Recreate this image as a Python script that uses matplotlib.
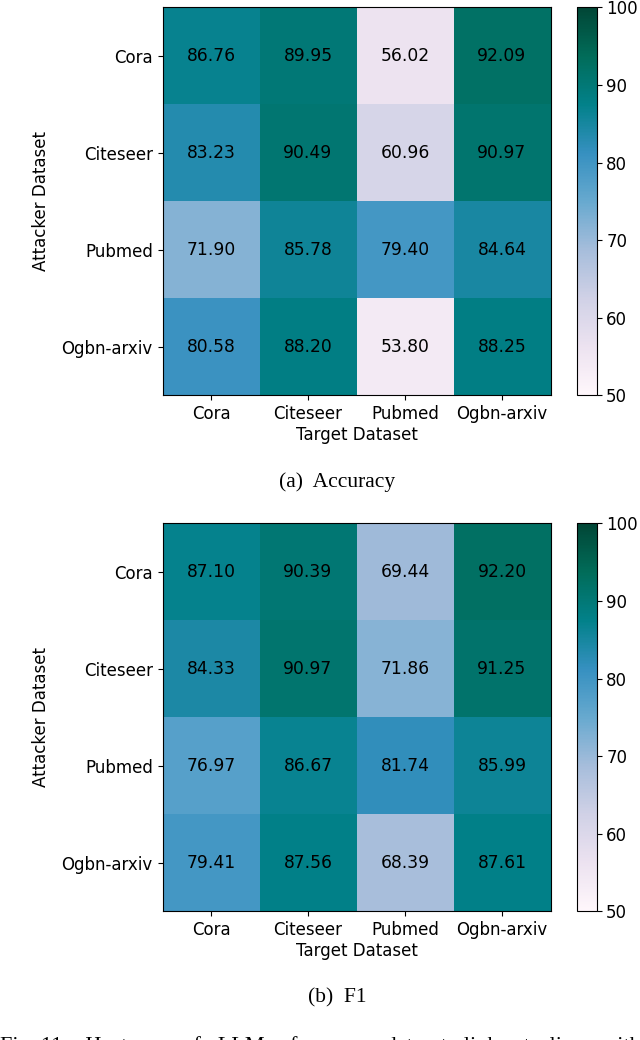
import numpy as np
import matplotlib.pyplot as plt

plt.rcParams["font.family"] = ["DejaVu Sans"]

datasets = ["Cora", "Citeseer", "Pubmed", "Ogbn-arxiv"]

accuracy = [
    [86.76, 89.95, 56.02, 92.09],
    [83.23, 90.49, 60.96, 90.97],
    [71.90, 85.78, 79.40, 84.64],
    [80.58, 88.20, 53.80, 88.25],
]

f1 = [
    [87.10, 90.39, 69.44, 92.20],
    [84.33, 90.97, 71.86, 91.25],
    [76.97, 86.67, 81.74, 85.99],
    [79.41, 87.56, 68.39, 87.61],
]

captions = ["(a)  Accuracy", "(b)  F1"]

W, H = 640, 1040
fig = plt.figure(figsize=(W / 100, H / 100), dpi=100)


def px(x0, y0, x1, y1):
    # pixel box -> figure fraction [left, bottom, width, height]
    return [x0 / W, 1 - y1 / H, (x1 - x0) / W, (y1 - y0) / H]


def draw(data, top, caption):
    ax = fig.add_axes(px(162.5, top, 550.5, top + 388))
    cax = fig.add_axes(px(577, top, 596.5, top + 388))
    arr = np.array(data)
    im = ax.imshow(arr, cmap="PuBuGn", vmin=50, vmax=100, aspect="auto")
    for i in range(arr.shape[0]):
        for j in range(arr.shape[1]):
            ax.text(j, i, f"{arr[i, j]:.2f}", ha="center", va="center",
                    color="black", fontsize=12.3)
    ax.set_xticks(range(len(datasets)))
    ax.set_xticklabels(datasets, fontsize=12)
    ax.set_yticks(range(len(datasets)))
    ax.set_yticklabels(datasets, fontsize=12)
    ax.set_xlabel("Target Dataset", fontsize=12, labelpad=2)
    ax.set_ylabel("Attacker Dataset", fontsize=12, labelpad=8)
    cb = fig.colorbar(im, cax=cax)
    cb.set_ticks([50, 60, 70, 80, 90, 100])
    cb.ax.tick_params(labelsize=12)
    cb.outline.set_linewidth(0.8)
    fig.text(337 / W, 1 - (top + 475) / H, caption, ha="center", va="center",
             fontsize=15.5, family="Liberation Serif")


draw(accuracy, 7.3, captions[0])
draw(f1, 523.3, captions[1])

# figure caption, cut by the bottom edge as in the source page
fig.text(0, 1 - 1036 / H,
         "Fig. 11:   Heatmap   of   LLMs   for   cross-dataset   link   stealing   with   different",
         ha="left", va="top", fontsize=16, family="Liberation Serif")

fig.savefig("out.png", dpi=100)
